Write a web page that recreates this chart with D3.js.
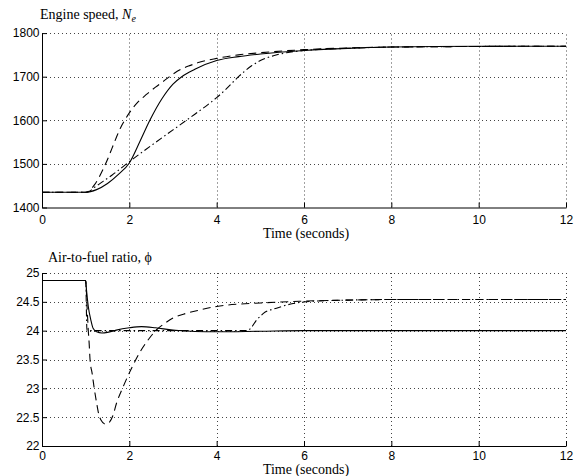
<!DOCTYPE html>
<html><head><meta charset="utf-8">
<script src="https://cdn.jsdelivr.net/npm/d3@7"></script>
<style>body{margin:0;background:#fff} svg{display:block}</style>
</head><body><svg id="c" width="579" height="476"></svg>
<script>
// ---- data ----
const xTicks = [0, 2, 4, 6, 8, 10, 12];
const speedTicks = [1400, 1500, 1600, 1700, 1800];
const afrTicks = [22, 22.5, 23, 23.5, 24, 24.5, 25];

// Engine speed (t, Ne)
const speedSolid = [[0,1435],[1,1435],[1.25,1441],[1.5,1455],[1.75,1476],[2,1502],[2.25,1553],[2.47,1600],[2.75,1650],[3,1683],[3.2,1700],[3.5,1717],[4,1737],[4.5,1746],[5,1752],[6,1760],[7,1765],[8,1768],[10,1770],[12,1770]];
const speedDashed = [[0,1435],[1,1435],[1.1,1440],[1.2,1452],[1.3,1468],[1.4,1488],[1.5,1510],[1.6,1535],[1.7,1560],[1.8,1583],[1.9,1601],[2,1617],[2.2,1642],[2.4,1660],[2.6,1676],[2.8,1691],[3,1706],[3.2,1718],[3.4,1726],[3.6,1733],[4,1742],[4.5,1750],[5,1755],[6,1762],[7,1766],[8,1768],[12,1770]];
const speedDashDot = [[0,1435],[1,1435],[1.1,1438],[1.2,1446],[1.4,1460],[1.6,1474],[2,1505],[2.5,1542],[3,1578],[3.5,1614],[3.8,1636],[4,1652],[4.2,1670],[4.5,1700],[4.8,1725],[5,1737],[5.3,1748],[5.6,1755],[6,1760],[7,1765],[8,1768],[12,1770]];

// Air-to-fuel ratio (t, phi)
const afrSolid = [[0,24.87],[1,24.87],[1.02,24.7],[1.06,24.42],[1.12,24.18],[1.17,24.04],[1.25,23.98],[1.37,23.96],[1.5,23.97],[1.7,24.01],[2,24.05],[2.28,24.07],[2.6,24.05],[3,24.01],[3.2,24.0],[3.5,23.985],[4,23.98],[5,23.99],[6,24.0],[12,24.0]];
const afrDashed = [[0,24.87],[1,24.87],[1.03,24.45],[1.06,24.0],[1.08,23.78],[1.1,23.5],[1.15,23.25],[1.2,22.98],[1.25,22.75],[1.3,22.55],[1.35,22.45],[1.45,22.38],[1.55,22.42],[1.62,22.52],[1.71,22.75],[1.86,23.03],[2.02,23.3],[2.15,23.5],[2.3,23.7],[2.45,23.86],[2.63,24.02],[2.8,24.12],[3,24.22],[3.3,24.3],[3.62,24.36],[4,24.42],[4.5,24.46],[5,24.48],[5.9,24.51],[7,24.53],[8,24.54],[12,24.54]];
const afrDashDot = [[0,24.87],[1,24.87],[1.03,24.0],[4.7,24.0],[4.8,24.06],[4.9,24.17],[5,24.25],[5.07,24.3],[5.37,24.39],[5.75,24.47],[6.2,24.51],[7,24.53],[8,24.54],[12,24.54]];

// ---- drawing ----
const svg = d3.select('#c');
const x = d3.scaleLinear().domain([0, 12]).range([42, 566]);
const DASHED = '8,5', DASHDOT = '7,3,1.5,3';

function panel(opts) {
  const y = d3.scaleLinear().domain(opts.domain).range(opts.range);
  const g = svg.append('g');
  // grid
  g.selectAll('.vg').data(xTicks.filter(d => d > 0)).join('line')
    .attr('x1', d => Math.round(x(d)) + 0.5).attr('x2', d => Math.round(x(d)) + 0.5)
    .attr('y1', y.range()[0]).attr('y2', y.range()[1])
    .attr('stroke', '#444').attr('stroke-dasharray', '1,3');
  g.selectAll('.hg').data(opts.ticks.slice(1)).join('line')
    .attr('y1', d => Math.round(y(d)) + 0.5).attr('y2', d => Math.round(y(d)) + 0.5)
    .attr('x1', x(0)).attr('x2', x(12))
    .attr('stroke', '#444').attr('stroke-dasharray', '1,3');
  // axes
  const ax = g.append('g').attr('transform', `translate(0,${y.range()[0]})`)
    .call(d3.axisBottom(x).tickValues(xTicks).tickSizeInner(-5).tickSizeOuter(0).tickPadding(opts.xPad));
  const ay = g.append('g').attr('transform', `translate(${x(0)},0)`)
    .call(d3.axisLeft(y).tickValues(opts.ticks).tickSizeInner(-5).tickSizeOuter(0).tickPadding(2.5).tickFormat(d3.format('')));
  [ax, ay].forEach(a => {
    a.selectAll('text').attr('font-family', 'Liberation Sans, Arial, sans-serif').attr('font-size', 12).attr('fill', '#000');
    a.selectAll('path,line').attr('stroke', '#000');
  });
  // lines (dash-dot, dashed, then solid on top)
  const line = d3.line().x(d => x(d[0])).y(d => y(d[1])).curve(d3.curveMonotoneX);
  opts.series.forEach(s => {
    g.append('path').datum(s.data).attr('d', line)
      .attr('fill', 'none').attr('stroke', '#000').attr('stroke-width', 1.1)
      .attr('stroke-dasharray', s.dash);
  });
  // titles
  const t = g.append('text').attr('x', opts.titleX).attr('y', opts.titleY)
    .attr('font-family', 'Liberation Serif, Times New Roman, serif').attr('font-size', 14);
  opts.title(t);
  g.append('text').attr('x', 306).attr('y', opts.xlabY).attr('text-anchor', 'middle')
    .attr('font-family', 'Liberation Serif, Times New Roman, serif').attr('font-size', 14)
    .text('Time (seconds)');
}

panel({
  domain: [1400, 1800], range: [207.5, 33.1], ticks: speedTicks, xPad: 7.5,
  series: [{data: speedDashDot, dash: DASHDOT}, {data: speedDashed, dash: DASHED}, {data: speedSolid, dash: null}],
  titleX: 40, titleY: 19, xlabY: 238,
  title: t => {
    t.append('tspan').text('Engine speed, ');
    t.append('tspan').attr('font-style', 'italic').text('N');
    t.append('tspan').attr('font-style', 'italic').attr('font-size', 10).attr('dy', 3).text('e');
  }
});
panel({
  domain: [22, 25], range: [446, 273], ticks: afrTicks, xPad: 5.5,
  series: [{data: afrDashDot, dash: DASHDOT}, {data: afrDashed, dash: DASHED}, {data: afrSolid, dash: null}],
  titleX: 48, titleY: 262, xlabY: 474,
  title: t => { t.text('Air-to-fuel ratio, ϕ'); }
});
</script>
</body></html>
